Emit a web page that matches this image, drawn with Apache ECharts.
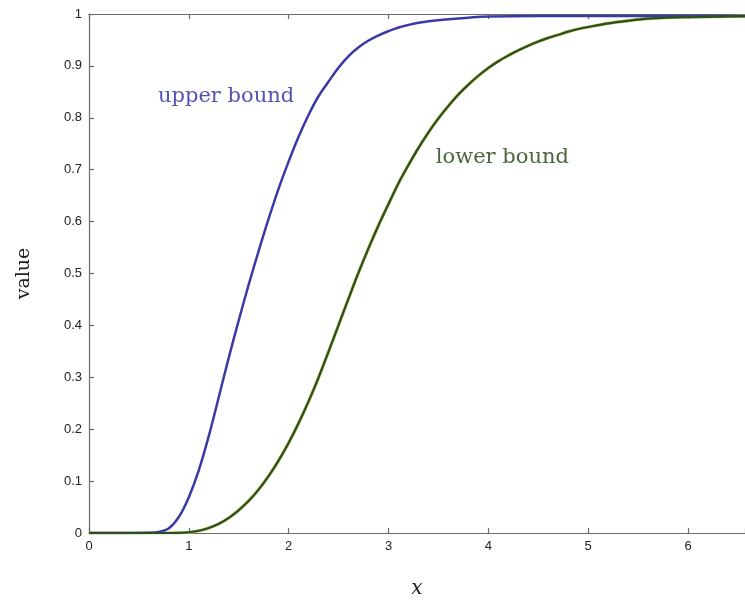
<!DOCTYPE html>
<html>
<head>
<meta charset="utf-8">
<script src="https://cdn.jsdelivr.net/npm/echarts@6/dist/echarts.min.js"></script>
<style>
html,body{margin:0;padding:0;background:#fff;}
#chart{width:745px;height:604px;}
</style>
</head>
<body>
<div id="chart"></div>
<script>
// Data
const xUpper = [0, 0.4, 0.6, 0.7, 0.8, 0.9, 1.0, 1.1, 1.2, 1.3, 1.4, 1.5, 1.6, 1.7, 1.8, 1.9, 2.0, 2.1, 2.2, 2.3, 2.4, 2.5, 2.6, 2.7, 2.8, 2.9, 3.0, 3.1, 3.2, 3.3, 3.4, 3.6, 3.8, 4.0, 4.5, 5.0, 5.5, 6.0, 6.57];
const yUpper = [0, 0, 0.0003, 0.002, 0.009, 0.031, 0.069, 0.121, 0.187, 0.262, 0.338, 0.410, 0.479, 0.544, 0.606, 0.664, 0.716, 0.764, 0.806, 0.842, 0.870, 0.897, 0.919, 0.936, 0.949, 0.959, 0.967, 0.974, 0.979, 0.983, 0.986, 0.990, 0.993, 0.995, 0.996, 0.996, 0.996, 0.996, 0.996];
const xLower = [0, 0.8, 0.9, 1.0, 1.1, 1.2, 1.3, 1.4, 1.5, 1.6, 1.7, 1.8, 1.9, 2.0, 2.1, 2.2, 2.3, 2.4, 2.5, 2.6, 2.7, 2.8, 2.9, 3.0, 3.1, 3.2, 3.3, 3.4, 3.5, 3.6, 3.7, 3.8, 3.9, 4.0, 4.1, 4.2, 4.3, 4.4, 4.5, 4.6, 4.7, 4.8, 4.9, 5.0, 5.2, 5.4, 5.6, 5.8, 6.0, 6.3, 6.57];
const yLower = [0, 0, 0.0002, 0.0014, 0.0044, 0.0097, 0.0177, 0.029, 0.044, 0.062, 0.084, 0.110, 0.140, 0.174, 0.212, 0.254, 0.300, 0.350, 0.401, 0.452, 0.502, 0.549, 0.593, 0.634, 0.674, 0.709, 0.742, 0.772, 0.799, 0.823, 0.845, 0.864, 0.881, 0.896, 0.909, 0.920, 0.930, 0.939, 0.947, 0.954, 0.960, 0.966, 0.971, 0.975, 0.982, 0.987, 0.991, 0.993, 0.994, 0.995, 0.996];
const yTicks = [0, 0.1, 0.2, 0.3, 0.4, 0.5, 0.6, 0.7, 0.8, 0.9, 1];
const xTicks = [0, 1, 2, 3, 4, 5, 6];
const seriesNames = ['upper bound', 'lower bound'];
const axisNames = {x: 'x', y: 'value'};
// label anchor points in data coordinates
const upperLabelAt = [1.373, 0.84];
const lowerLabelAt = [4.14, 0.724];

const zip = (xs, ys) => xs.map((v, i) => [v, ys[i]]);

const chart = echarts.init(document.getElementById('chart'), null, {renderer: 'canvas'});
const axisLineStyle = {color: '#6a6a6a', width: 1.2};
const labelFont = {fontFamily: 'Liberation Sans', fontSize: 13, color: '#222'};

chart.setOption({
  animation: false,
  backgroundColor: '#fff',
  grid: {left: 89, right: 0, top: 14, bottom: 71, containLabel: false, outerBoundsMode: 'none'},
  xAxis: [{
    type: 'value', min: 0, max: 6.57, interval: 1, position: 'bottom',
    name: axisNames.x, nameLocation: 'middle', nameGap: 46,
    nameTextStyle: {fontFamily: 'DejaVu Serif', fontStyle: 'italic', fontSize: 20, color: '#222'},
    axisLine: {show: true, lineStyle: axisLineStyle},
    axisTick: {show: true, inside: true, length: 5, lineStyle: axisLineStyle},
    axisLabel: Object.assign({margin: 7, formatter: v => xTicks.includes(v) ? String(v) : ''}, labelFont),
    splitLine: {show: false}
  }, {
    type: 'value', min: 0, max: 6.57, interval: 1, position: 'top',
    axisLine: {show: true, lineStyle: axisLineStyle},
    axisTick: {show: true, inside: true, length: 5, lineStyle: axisLineStyle},
    axisLabel: {show: false},
    splitLine: {show: false}
  }],
  yAxis: [{
    type: 'value', min: 0, max: 1, interval: 0.1, position: 'left',
    name: axisNames.y, nameLocation: 'middle', nameGap: 55, nameRotate: 90,
    nameTextStyle: {fontFamily: 'DejaVu Serif', fontSize: 19, color: '#222'},
    axisLine: {show: true, lineStyle: axisLineStyle},
    axisTick: {show: true, inside: true, length: 5, lineStyle: axisLineStyle},
    axisLabel: Object.assign({margin: 7, formatter: v => {
      const t = yTicks.find(k => Math.abs(k - v) < 1e-9);
      return t === undefined ? '' : String(t);
    }}, labelFont),
    splitLine: {show: false}
  }],
  series: [{
    name: seriesNames[0], type: 'line', smooth: 0.35, showSymbol: false, symbol: 'none',
    data: zip(xUpper, yUpper), z: 3,
    lineStyle: {color: '#3a3aa6', width: 2.5}
  }, {
    name: seriesNames[1] + ' halo', type: 'line', smooth: 0.35, showSymbol: false, symbol: 'none',
    data: zip(xLower, yLower), z: 2, silent: true,
    lineStyle: {color: '#b9c24a', width: 3.2}
  }, {
    name: seriesNames[1], type: 'line', smooth: 0.35, showSymbol: false, symbol: 'none',
    data: zip(xLower, yLower), z: 4,
    lineStyle: {color: '#2a4f24', width: 2.2}
  }]
});

const pU = chart.convertToPixel({xAxisIndex: 0, yAxisIndex: 0}, upperLabelAt);
const pL = chart.convertToPixel({xAxisIndex: 0, yAxisIndex: 0}, lowerLabelAt);
chart.setOption({
  graphic: [{
    type: 'text', x: pU[0], y: pU[1],
    style: {text: seriesNames[0], fill: '#5353b3', font: '21px "DejaVu Serif"', textAlign: 'center', textVerticalAlign: 'middle'}
  }, {
    type: 'text', x: pL[0], y: pL[1],
    style: {text: seriesNames[1], fill: '#4a673b', font: '21px "DejaVu Serif"', textAlign: 'center', textVerticalAlign: 'middle'}
  }]
});
</script>
</body>
</html>
